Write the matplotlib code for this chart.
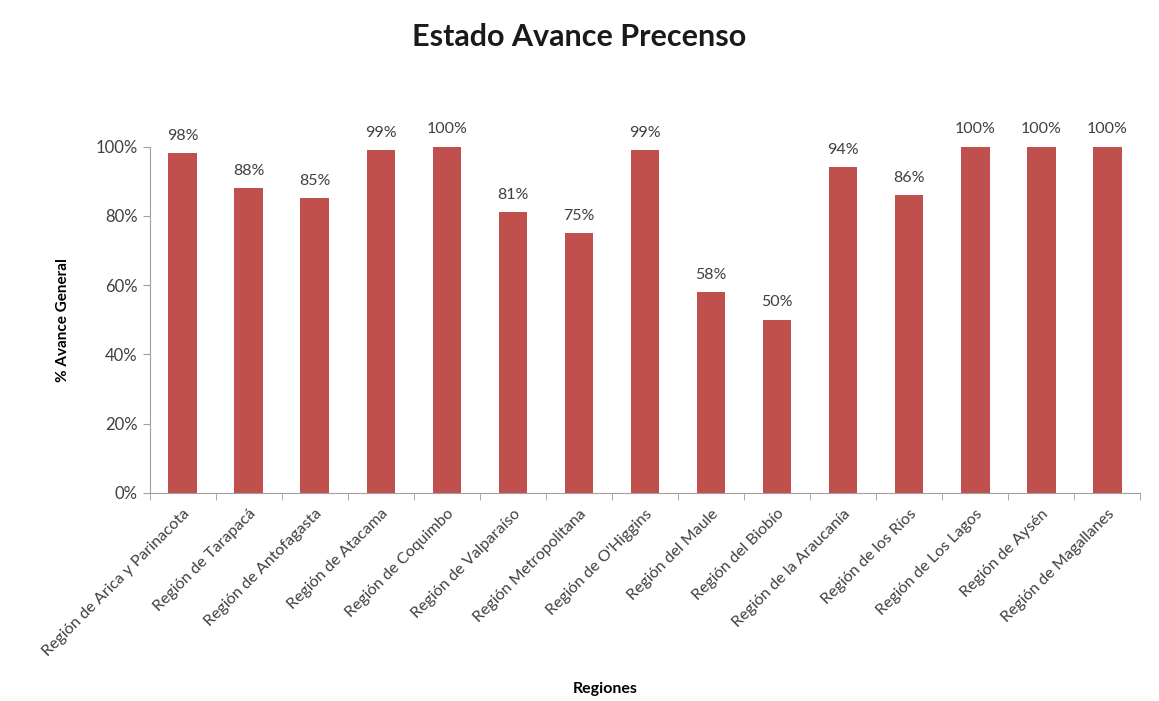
import matplotlib
matplotlib.use("Agg")
import matplotlib.pyplot as plt
import matplotlib.transforms as mtransforms
import numpy as np

regiones = [
    "Región de Arica y Parinacota", "Región de Tarapacá", "Región de Antofagasta",
    "Región de Atacama", "Región de Coquimbo", "Región de Valparaíso",
    "Región Metropolitana", "Región de O'Higgins", "Región del Maule",
    "Región del Biobío", "Región de la Araucanía", "Región de los Ríos",
    "Región de Los Lagos", "Región de Aysén", "Región de Magallanes",
]
avance = [98, 88, 85, 99, 100, 81, 75, 99, 58, 50, 94, 86, 100, 100, 100]

plt.rcParams['font.family'] = ['Lato', 'DejaVu Sans']

fig = plt.figure(figsize=(11.59, 7.01), dpi=100)
ax = fig.add_axes([0.129, 0.297, 0.855, 0.494])

x = np.arange(len(regiones))
bars = ax.bar(x, avance, width=0.43, color="#C0504D")

for xi, v in zip(x, avance):
    ax.text(xi, v + 3, f"{v}%", ha="center", va="bottom", fontsize=11.5, color="#404040")

ax.set_xlim(-0.5, len(regiones) - 0.5)
ax.set_ylim(0, 100)
ax.set_yticks(range(0, 101, 20))
ax.set_yticklabels([f"{t}%" for t in range(0, 101, 20)], fontsize=12, color="#404040")
ax.set_xticks(x)
ax.set_xticklabels(regiones, rotation=45, ha="right", rotation_mode="anchor",
                   fontsize=11.5, color="#404040")
shift = mtransforms.ScaledTranslation(-12 / 100, 0, fig.dpi_scale_trans)
for lbl in ax.get_xticklabels():
    lbl.set_transform(lbl.get_transform() + shift)
ax.set_xticks(np.arange(-0.5, len(regiones), 1), minor=True)
ax.tick_params(axis="x", which="major", length=0, pad=10)
ax.tick_params(axis="x", which="minor", length=5, color="#A0A0A0")
ax.tick_params(axis="y", length=5, color="#A0A0A0")

for s in ["top", "right"]:
    ax.spines[s].set_visible(False)
for s in ["left", "bottom"]:
    ax.spines[s].set_color("#A0A0A0")

ax.set_ylabel("% Avance General", fontsize=11, fontweight="bold", labelpad=18)
fig.text(0.522, 0.012, "Regiones", ha="center", fontsize=11.5, fontweight="bold")
fig.text(0.5, 0.935, "Estado Avance Precenso", ha="center", fontsize=22, fontweight="bold",
         color="#1a1a1a")

fig.savefig("out.png", dpi=100)
